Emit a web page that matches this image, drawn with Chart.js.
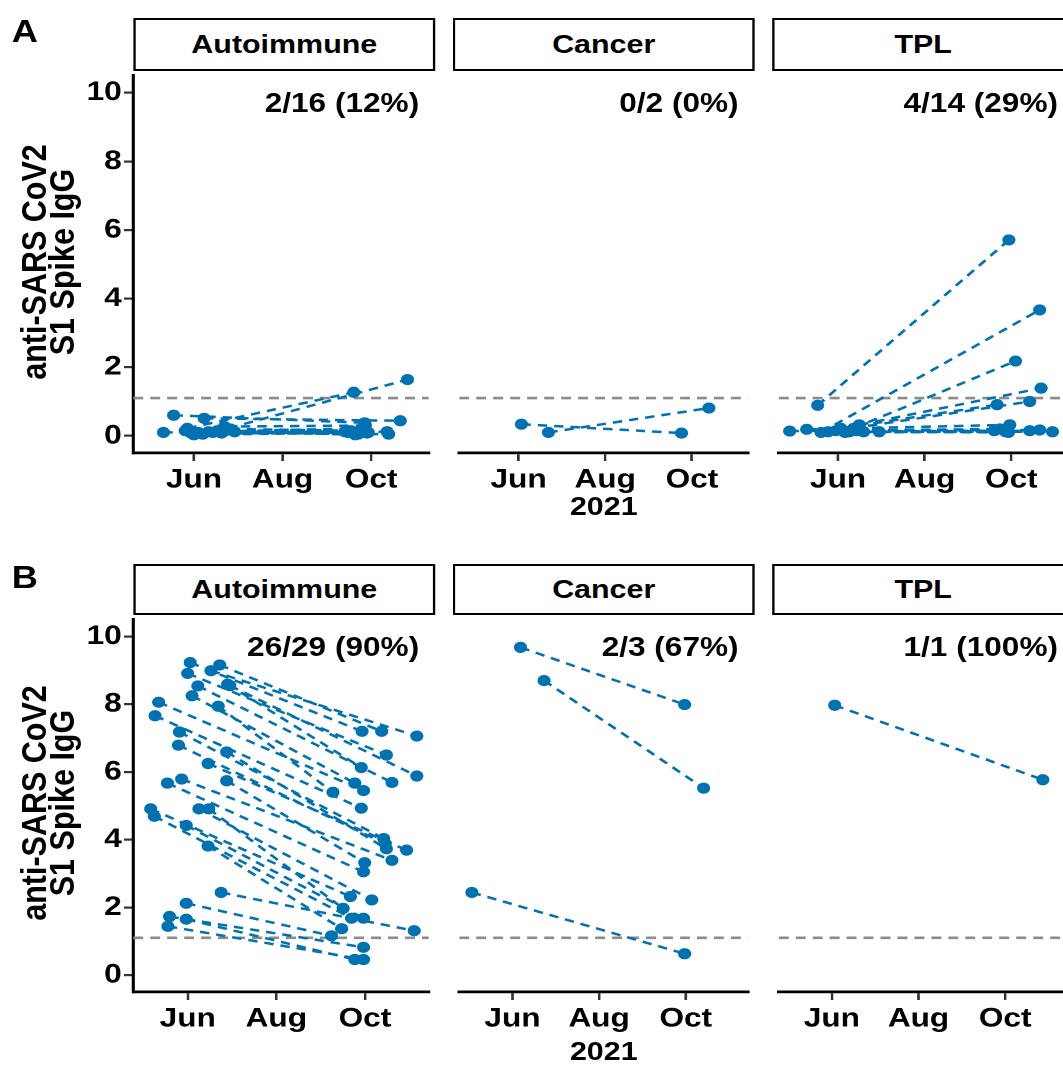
<!DOCTYPE html>
<html>
<head>
<meta charset="utf-8">
<script src="https://cdn.jsdelivr.net/npm/chart.js@4.4.1/dist/chart.umd.min.js"></script>
<style>
  html, body { margin: 0; padding: 0; background: #fff; overflow: hidden; }
  body { width: 1063px; height: 1072px; position: relative;
         font-family: "Liberation Sans", Arial, sans-serif; font-weight: bold; color: #000; }
  /* the source figure is stretched sideways, so the whole page is too */
  #fig { position: absolute; left: 0; top: 0; width: 930px; height: 1072px;
         transform: scaleX(1.17); transform-origin: 0 0; }
  .strip { position: absolute; box-sizing: border-box; border: 2.4px solid #000; background: #fff;
           font-size: 26px; display: flex; align-items: center; justify-content: center; }
  .note { position: absolute; width: 220px; font-size: 27px; line-height: 30px; text-align: right; white-space: nowrap; }
  .tag { position: absolute; font-size: 31px; line-height: 34px; }
  .ytitle { position: absolute; width: 340px; height: 60px; font-size: 30.5px; line-height: 24px;
            display: flex; flex-direction: column; align-items: center; justify-content: center;
            transform: rotate(-90deg); white-space: nowrap; }
  .year { position: absolute; width: 120px; font-size: 26px; line-height: 30px; text-align: center; }
  canvas { position: absolute; }
</style>
</head>
<body>
<div id="fig"></div>
<script>
const groups = ["Autoimmune", "Cancer", "TPL"];
const monthDays = [152, 213, 274]; // 1 Jun, 1 Aug, 1 Oct 2021 as day of year
const monthNames = ["Jun", "Aug", "Oct"];
const yTicks = [0, 2, 4, 6, 8, 10];
const cutoff = 1.1;
const yearLabel = "2021";
const yTitle = ["anti-SARS CoV2", "S1 Spike IgG"];

// A: first sample (day, IgG) and second sample (day, IgG), one entry per patient
const autoA_day1 = [131, 138, 147.5, 159, 165, 146, 150, 152, 155, 158, 162, 173, 168, 171, 180, 177];
const autoA_igg1 = [0.10, 0.60, 0.22, 0.51, 0.10, 0.15, 0.08, 0.03, 0.10, 0.05, 0.12, 0.27, 0.15, 0.08, 0.12, 0.20];
const autoA_day2 = [258, 269.5, 262, 294, 299, 265, 270, 272, 285, 256, 268, 270, 263, 286, 271, 260];
const autoA_igg2 = [0.10, 0.38, 1.27, 0.44, 1.64, 0.05, 0.15, 0.10, 0.12, 0.12, 0.22, 0.30, 0.03, 0.05, 0.08, 0.15];

const cancerA_day1 = [154, 173];
const cancerA_igg1 = [0.34, 0.10];
const cancerA_day2 = [266.7, 286];
const cancerA_igg2 = [0.08, 0.81];

const tplA_day1 = [137.7, 140, 163, 167, 154, 150.5, 118, 130, 181, 157, 160, 165, 170, 145];
const tplA_igg1 = [0.89, 0.10, 0.22, 0.32, 0.22, 0.15, 0.14, 0.19, 0.12, 0.10, 0.12, 0.15, 0.12, 0.12];
const tplA_day2 = [272.3, 294, 277, 295, 264, 287, 266, 273, 287, 270, 303, 294, 272, 262];
const tplA_igg2 = [5.71, 3.67, 2.18, 1.39, 0.91, 1.00, 0.20, 0.32, 0.15, 0.12, 0.12, 0.17, 0.10, 0.15];

// B
const autoB_day1 = [153.7, 174, 168, 152, 179.5, 181, 159, 155, 132, 173, 129.5, 146.3, 145.6, 178.8, 166,
                    147.8, 178.8, 138, 126.5, 159.7, 166.5, 129, 151, 166, 175, 151, 139.5, 151, 138.4];
const autoB_igg1 = [9.23, 9.16, 8.99, 8.91, 8.59, 8.55, 8.54, 8.25, 8.06, 7.94, 7.66, 7.18, 6.79, 6.59, 6.25,
                    5.79, 5.74, 5.67, 4.91, 4.91, 4.91, 4.69, 4.42, 3.81, 2.44, 2.12, 1.73, 1.65, 1.44];
const autoB_day2 = [272, 285.5, 309.7, 288.8, 271.5, 309.7, 292.6, 267, 273, 252, 271.5, 287, 288, 288.8, 302.7,
                    292.6, 273.8, 273, 264, 278.7, 259, 264.8, 273, 258, 307.9, 251, 273, 267, 273];
const autoB_igg2 = [7.20, 7.20, 7.06, 6.50, 6.13, 5.88, 5.69, 5.67, 5.45, 5.40, 4.93, 4.03, 3.88, 3.73, 3.69,
                    3.39, 3.32, 3.05, 2.32, 2.22, 1.97, 1.68, 1.68, 1.37, 1.31, 1.16, 0.82, 0.46, 0.46];

const cancerB_day1 = [157.7, 174.2, 123.4];
const cancerB_igg1 = [9.68, 8.70, 2.44];
const cancerB_day2 = [273.2, 286.6, 273.2];
const cancerB_igg2 = [7.99, 5.52, 0.63];

const tplB_day1 = [154];
const tplB_igg1 = [7.97];
const tplB_day2 = [300.5];
const tplB_igg2 = [5.77];

const notesA = ["2/16 (12%)", "0/2 (0%)", "4/14 (29%)"];
const notesB = ["26/29 (90%)", "2/3 (67%)", "1/1 (100%)"];

const blue = "#0072B2";
const tickFont = { family: "'Liberation Sans', Arial, sans-serif", size: 27, weight: "bold" };

// panel geometry (unstretched px)
const panelLeft = [114, 387, 660];
const panelWidth = 258;
const yAxisW = 60;
const xAxisH = 45;

const rows = [
  { tag: "A", stripTop: 18, top: 70, height: 383, yearTop: 491, xMin: 110.3, xMax: 313.6, notes: notesA,
    sets: [[autoA_day1, autoA_igg1, autoA_day2, autoA_igg2],
           [cancerA_day1, cancerA_igg1, cancerA_day2, cancerA_igg2],
           [tplA_day1, tplA_igg1, tplA_day2, tplA_igg2]] },
  { tag: "B", stripTop: 564, top: 614, height: 378, yearTop: 1036, xMin: 114.6, xMax: 317.9, notes: notesB,
    sets: [[autoB_day1, autoB_igg1, autoB_day2, autoB_igg2],
           [cancerB_day1, cancerB_igg1, cancerB_day2, cancerB_igg2],
           [tplB_day1, tplB_igg1, tplB_day2, tplB_igg2]] },
];

const fig = document.getElementById("fig");

function addDiv(cls, text, css) {
  const d = document.createElement("div");
  d.className = cls;
  d.textContent = text;
  Object.assign(d.style, css);
  fig.appendChild(d);
  return d;
}

// one dashed segment per patient, dots on top, grey cut-off line underneath
function buildDatasets(d1, v1, d2, v2, xMin, xMax) {
  const sets = [{
    data: [{ x: xMin, y: cutoff }, { x: xMax, y: cutoff }],
    showLine: true, borderColor: "#8c8c8c", borderWidth: 2.6, borderDash: [8.5, 6],
    pointRadius: 0, order: 3,
  }];
  d1.forEach((d, i) => {
    sets.push({
      data: [{ x: d, y: v1[i] }, { x: d2[i], y: v2[i] }],
      showLine: true, borderColor: blue, borderWidth: 2.5, borderDash: [8, 6],
      pointRadius: 0, order: 2,
    });
  });
  const pts = d1.map((d, i) => ({ x: d, y: v1[i] }))
    .concat(d2.map((d, i) => ({ x: d, y: v2[i] })));
  sets.push({ data: pts, backgroundColor: blue, borderWidth: 0, pointRadius: 5.6, order: 1 });
  return sets;
}

function drawPanel(row, col) {
  const showY = col === 0;
  const canvas = document.createElement("canvas");
  const w = panelWidth + (showY ? yAxisW : 0);
  const h = row.height + xAxisH;
  canvas.width = w;
  canvas.height = h;
  canvas.style.width = w + "px";
  canvas.style.height = h + "px";
  canvas.style.left = (panelLeft[col] - (showY ? yAxisW : 0)) + "px";
  canvas.style.top = row.top + "px";
  fig.appendChild(canvas);

  const [d1, v1, d2, v2] = row.sets[col];
  const y = {
    min: -0.5, max: 10.5, display: showY,
    afterBuildTicks: (s) => { s.ticks = yTicks.map((v) => ({ value: v })); },
    ticks: { font: tickFont, color: "#000", padding: 2 },
    grid: { drawOnChartArea: false, tickLength: 8, color: "#333", lineWidth: 2.2 },
    border: { display: true, color: "#000", width: 2.8 },
  };
  if (showY) {
    y.afterFit = (s) => { s.width = yAxisW; s.paddingTop = 0; s.paddingBottom = 0; };
  }

  return new Chart(canvas, {
    type: "scatter",
    data: { datasets: buildDatasets(d1, v1, d2, v2, row.xMin, row.xMax) },
    options: {
      responsive: false,
      animation: false,
      devicePixelRatio: 2,
      events: [],
      layout: { padding: 0 },
      plugins: { legend: { display: false }, tooltip: { enabled: false } },
      scales: {
        x: {
          type: "linear", min: row.xMin, max: row.xMax,
          afterBuildTicks: (s) => { s.ticks = monthDays.map((v) => ({ value: v })); },
          ticks: { font: tickFont, color: "#000", padding: 3, maxRotation: 0, autoSkip: false,
                   callback: (v, i) => monthNames[i] },
          grid: { drawOnChartArea: false, tickLength: 8, color: "#333", lineWidth: 2.2 },
          border: { display: true, color: "#000", width: 2.8 },
          afterFit: (s) => { s.height = xAxisH; s.paddingLeft = 0; s.paddingRight = 0; },
        },
        y: y,
      },
    },
  });
}

rows.forEach((row) => {
  addDiv("tag", row.tag, { left: "10px", top: (row.stripTop - 3) + "px" });

  const t = addDiv("ytitle", "", { left: (39.5 - 170) + "px", top: (row.top + row.height / 2 - 30) + "px" });
  yTitle.forEach((line) => {
    const s = document.createElement("span");
    s.textContent = line;
    t.appendChild(s);
  });

  groups.forEach((g, col) => {
    addDiv("strip", g, {
      left: panelLeft[col] + "px", top: row.stripTop + "px",
      width: panelWidth + "px", height: (row.top - row.stripTop + 1.2) + "px",
    });
    drawPanel(row, col);
    addDiv("note", row.notes[col], {
      left: (panelLeft[col] + panelWidth - 13.7 - 220) + "px", top: (row.top + 33 - 15) + "px",
    });
  });

  addDiv("year", yearLabel, {
    left: (panelLeft[1] + panelWidth / 2 - 60) + "px", top: row.yearTop + "px",
  });
});
</script>
</body>
</html>
